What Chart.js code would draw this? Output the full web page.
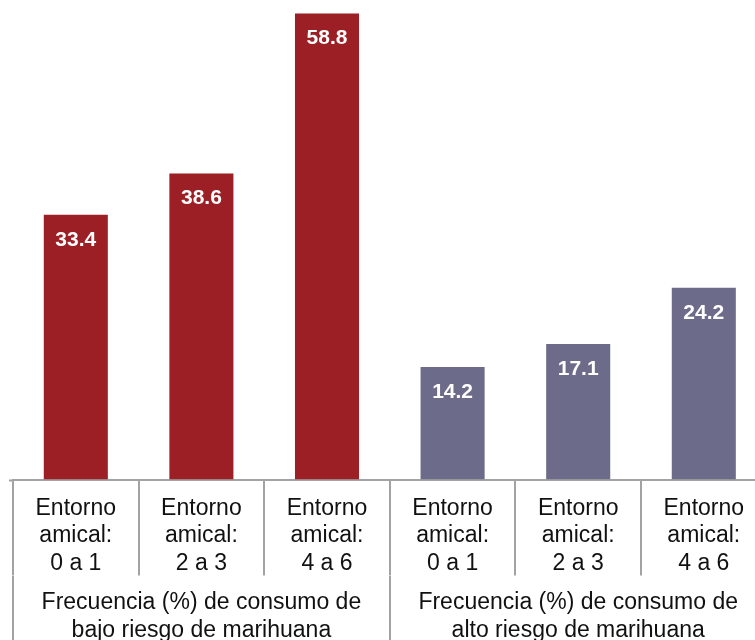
<!DOCTYPE html>
<html>
<head>
<meta charset="utf-8">
<script src="https://cdn.jsdelivr.net/npm/chart.js@4"></script>
<style>
  html, body { margin: 0; padding: 0; background: #fff; }
  #wrap { width: 755px; height: 640px; overflow: hidden; position: relative; }
  #chart { position: absolute; left: 0; top: 0; }
</style>
</head>
<body>
<div id="wrap"><canvas id="chart" width="780" height="644"></canvas></div>
<script>
const categories = [
  ['Entorno', 'amical:', '0 a 1'],
  ['Entorno', 'amical:', '2 a 3'],
  ['Entorno', 'amical:', '4 a 6'],
  ['Entorno', 'amical:', '0 a 1'],
  ['Entorno', 'amical:', '2 a 3'],
  ['Entorno', 'amical:', '4 a 6']
];
const groups = [
  ['Frecuencia (%) de consumo de', 'bajo riesgo de marihuana'],
  ['Frecuencia (%) de consumo de', 'alto riesgo de marihuana']
];
const values = [33.4, 38.6, 58.8, 14.2, 17.1, 24.2];
const groupOf = [0, 0, 0, 1, 1, 1];

const colors = ['#9b1f24', '#6c6c8a'];
const lineGray = '#a3a3a3';
const labelFont = '"Liberation Sans", Arial, sans-serif';

// white value labels just inside the top of each bar
const barValueLabels = {
  id: 'barValueLabels',
  afterDatasetsDraw(chart) {
    const { ctx } = chart;
    const meta = chart.getDatasetMeta(0);
    ctx.save();
    ctx.fillStyle = '#ffffff';
    ctx.font = 'bold 21px ' + labelFont;
    ctx.textAlign = 'center';
    ctx.textBaseline = 'middle';
    meta.data.forEach((bar, i) => {
      ctx.fillText(values[i].toFixed(1), bar.x, bar.y + 25);
    });
    ctx.restore();
  }
};

// the baseline runs a little past the first separator on the left
const baselineStub = {
  id: 'baselineStub',
  afterDraw(chart) {
    const { ctx, chartArea } = chart;
    ctx.save();
    ctx.strokeStyle = lineGray;
    ctx.lineWidth = 2;
    ctx.beginPath();
    ctx.moveTo(chartArea.left - 4, chartArea.bottom + 1);
    ctx.lineTo(chartArea.left, chartArea.bottom + 1);
    ctx.stroke();
    ctx.restore();
  }
};

new Chart(document.getElementById('chart'), {
  type: 'bar',
  data: {
    labels: categories,
    datasets: [{
      data: values,
      backgroundColor: groupOf.map(g => colors[g]),
      borderWidth: 0,
      categoryPercentage: 1,
      barPercentage: 0.51
    }]
  },
  options: {
    responsive: false,
    animation: false,
    layout: { padding: { left: 13, right: 13.4, top: 4, bottom: 0 } },
    plugins: {
      legend: { display: false },
      tooltip: { enabled: false }
    },
    scales: {
      y: {
        display: false,
        min: 0,
        max: 60
      },
      x: {
        position: 'bottom',
        offset: true,
        afterFit: (scale) => { scale.height = 96.5; },
        grid: {
          offset: true,
          drawOnChartArea: false,
          drawTicks: true,
          tickLength: 96,
          color: lineGray,
          lineWidth: 2
        },
        border: { display: true, color: lineGray, width: 2 },
        ticks: {
          autoSkip: false,
          maxRotation: 0,
          minRotation: 0,
          padding: -81,
          color: '#111',
          font: { family: labelFont, size: 23, lineHeight: 27.5 / 23 }
        }
      },
      x2: {
        type: 'category',
        position: 'bottom',
        labels: groups,
        offset: true,
        afterFit: (scale) => { scale.height = 68; },
        grid: {
          offset: true,
          drawOnChartArea: false,
          drawTicks: true,
          tickLength: 70,
          color: lineGray,
          lineWidth: 2
        },
        border: { display: false },
        ticks: {
          autoSkip: false,
          maxRotation: 0,
          minRotation: 0,
          padding: -57.5,
          color: '#111',
          font: { family: labelFont, size: 23, lineHeight: 28 / 23 }
        }
      }
    }
  },
  plugins: [barValueLabels, baselineStub]
});
</script>
</body>
</html>
